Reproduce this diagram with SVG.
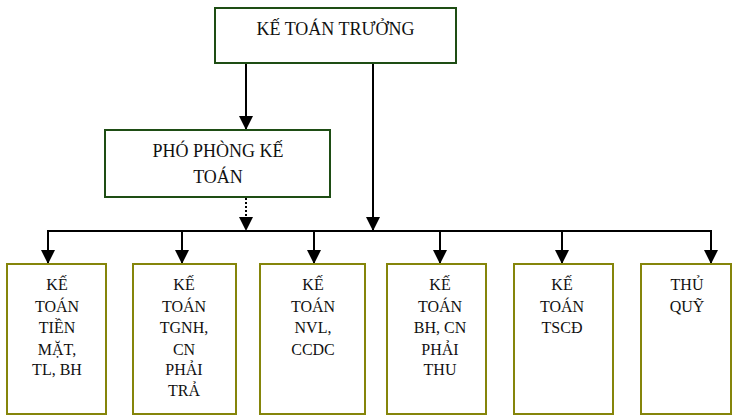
<svg xmlns="http://www.w3.org/2000/svg" width="732" height="416" viewBox="0 0 732 416">
<style>
text{font-family:"Liberation Serif","Times New Roman",serif;fill:#111;text-anchor:middle}
.top{font-size:18px}
.sub{font-size:16px}
.boxA{fill:#fff;stroke:#1e4d14;stroke-width:2}
.boxB{fill:#fff;stroke:#85850a;stroke-width:2}
.c{stroke:#000;stroke-width:2;fill:none}
.d{stroke:#000;stroke-width:2;fill:none;stroke-dasharray:2 2}
</style>
<defs>
<marker id="ah" markerUnits="userSpaceOnUse" markerWidth="14" markerHeight="14" refX="14" refY="7" orient="auto">
<path d="M0,0 L14,7 L0,14 z" fill="#000"/>
</marker>
</defs>
<rect width="732" height="416" fill="#fff"/>
<g id="connectors">
<line class="c" x1="246" y1="63" x2="246" y2="130" marker-end="url(#ah)"/>
<line class="c" x1="373" y1="63" x2="373" y2="231" marker-end="url(#ah)"/>
<line class="d" x1="246" y1="198" x2="246" y2="231" marker-end="url(#ah)"/>
<line class="c" x1="47" y1="231" x2="712" y2="231"/>
<line class="c" x1="48" y1="231" x2="48" y2="264" marker-end="url(#ah)"/>
<line class="c" x1="182" y1="231" x2="182" y2="264" marker-end="url(#ah)"/>
<line class="c" x1="314" y1="231" x2="314" y2="264" marker-end="url(#ah)"/>
<line class="c" x1="440" y1="231" x2="440" y2="264" marker-end="url(#ah)"/>
<line class="c" x1="562" y1="231" x2="562" y2="264" marker-end="url(#ah)"/>
<line class="c" x1="711" y1="231" x2="711" y2="264" marker-end="url(#ah)"/>
</g>
<g id="ke-toan-truong">
<rect class="boxA" x="215" y="8" width="241" height="55"/>
<text class="top" x="335.5" y="35">KẾ TOÁN TRƯỞNG</text>
</g>
<g id="pho-phong">
<rect class="boxA" x="105" y="130" width="225" height="67"/>
<text class="top" x="218" y="157">PHÓ PHÒNG KẾ</text>
<text class="top" x="218" y="183">TOÁN</text>
</g>
<g id="kt-tien-mat">
<rect class="boxB" x="7" y="264" width="99" height="150"/>
<text class="sub" x="57" y="290">KẾ</text>
<text class="sub" x="57" y="312">TOÁN</text>
<text class="sub" x="57" y="333">TIỀN</text>
<text class="sub" x="57" y="355">MẶT,</text>
<text class="sub" x="57" y="375">TL, BH</text>
</g>
<g id="kt-tgnh">
<rect class="boxB" x="133" y="264" width="103" height="150"/>
<text class="sub" x="184" y="290">KẾ</text>
<text class="sub" x="184" y="312">TOÁN</text>
<text class="sub" x="184" y="333">TGNH,</text>
<text class="sub" x="184" y="355">CN</text>
<text class="sub" x="184" y="375">PHẢI</text>
<text class="sub" x="184" y="396">TRẢ</text>
</g>
<g id="kt-nvl">
<rect class="boxB" x="260" y="264" width="105" height="150"/>
<text class="sub" x="313" y="290">KẾ</text>
<text class="sub" x="313" y="312">TOÁN</text>
<text class="sub" x="313" y="333">NVL,</text>
<text class="sub" x="313" y="355">CCDC</text>
</g>
<g id="kt-bh">
<rect class="boxB" x="387" y="264" width="99" height="150"/>
<text class="sub" x="440" y="290">KẾ</text>
<text class="sub" x="440" y="312">TOÁN</text>
<text class="sub" x="440" y="333">BH, CN</text>
<text class="sub" x="440" y="355">PHẢI</text>
<text class="sub" x="440" y="375">THU</text>
</g>
<g id="kt-tscd">
<rect class="boxB" x="514" y="264" width="99" height="150"/>
<text class="sub" x="562" y="290">KẾ</text>
<text class="sub" x="562" y="312">TOÁN</text>
<text class="sub" x="562" y="333">TSCĐ</text>
</g>
<g id="thu-quy">
<rect class="boxB" x="641" y="264" width="90" height="150"/>
<text class="sub" x="687" y="290">THỦ</text>
<text class="sub" x="687" y="312">QUỸ</text>
</g>
</svg>
